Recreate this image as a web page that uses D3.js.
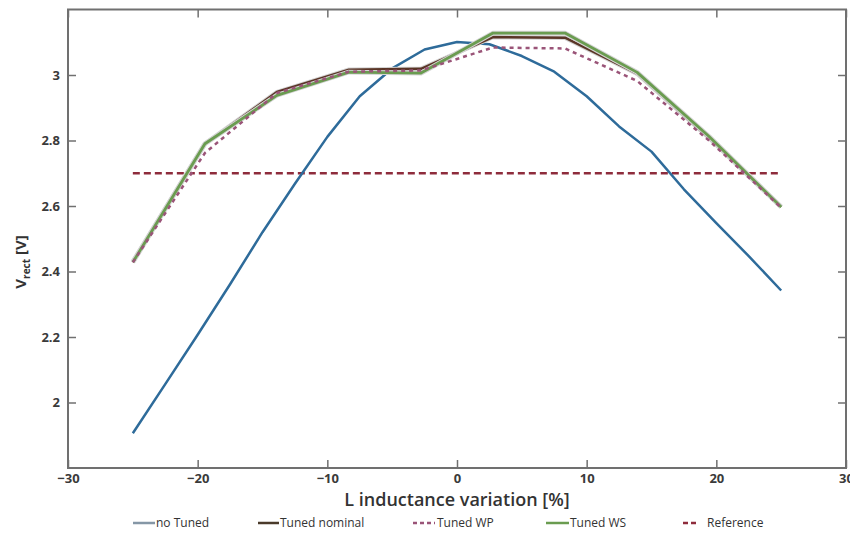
<!DOCTYPE html>
<html>
<head>
<meta charset="utf-8">
<script src="https://cdn.jsdelivr.net/npm/d3@7"></script>
<style>
body { margin: 0; background: #fff; }
text { font-family: "Open Sans", "DejaVu Sans", sans-serif; }
</style>
</head>
<body>
<svg id="chart"></svg>
<script>
// tuned curves: 10 points from -25 to 25
var tunedX = [-25, -19.44, -13.89, -8.33, -2.78, 2.78, 8.33, 13.89, 19.44, 25];
var tunedNominal = [2.430, 2.790, 2.948, 3.016, 3.019, 3.116, 3.114, 3.004, 2.808, 2.597];
var tunedWP      = [2.428, 2.762, 2.945, 3.010, 3.014, 3.084, 3.081, 2.982, 2.800, 2.595];
var tunedWS      = [2.428, 2.790, 2.938, 3.009, 3.006, 3.128, 3.128, 3.008, 2.812, 2.597];

// no tuned curve
var noTunedX = [-25, -22.5, -20, -17.5, -15, -12.5, -10, -7.5, -5, -2.5, 0, 2.5, 5, 7.5, 10, 12.5, 15, 17.5, 20, 22.5, 25];
var noTuned  = [1.906, 2.056, 2.207, 2.361, 2.520, 2.668, 2.811, 2.935, 3.020, 3.078, 3.101, 3.094, 3.058, 3.010, 2.935, 2.843, 2.766, 2.651, 2.548, 2.447, 2.342];

var refX = [-25, 25];
var refY = [2.7, 2.7];

var xTicks = [-30, -20, -10, 0, 10, 20, 30];
var yTicks = [2, 2.2, 2.4, 2.6, 2.8, 3];

var W = 850, H = 534;
var pL = 68, pR = 846, pT = 9.5, pB = 468;

var svg = d3.select("#chart").attr("width", W).attr("height", H);

var x = d3.scaleLinear().domain([-30, 30]).range([pL, pR]);
var y = d3.scaleLinear().domain([1.8, 3.2]).range([pB, pT]);

var fmt = function(d) { return String(d).replace("-", "\u2212"); };

// axes (ticks inside, mirrored)
var axisColor = "#707070";
function styleAxis(g) {
  g.select(".domain").remove();
  g.selectAll(".tick line").attr("stroke", axisColor).attr("stroke-width", 1.5);
  g.selectAll(".tick text").attr("fill", "#3a3a3a").attr("font-size", 13).attr("font-weight", "bold");
}
svg.append("g").attr("transform", "translate(0," + pB + ")")
  .call(d3.axisBottom(x).tickValues(xTicks).tickFormat(fmt).tickSize(-8).tickPadding(6))
  .call(styleAxis);
svg.append("g").attr("transform", "translate(0," + pT + ")")
  .call(d3.axisTop(x).tickValues(xTicks).tickFormat("").tickSize(-8))
  .call(styleAxis);
svg.append("g").attr("transform", "translate(" + pL + ",0)")
  .call(d3.axisLeft(y).tickValues(yTicks).tickFormat(fmt).tickSize(-8).tickPadding(8))
  .call(styleAxis);
svg.append("g").attr("transform", "translate(" + pR + ",0)")
  .call(d3.axisRight(y).tickValues(yTicks).tickFormat("").tickSize(-8))
  .call(styleAxis);

svg.append("rect")
  .attr("x", pL).attr("y", pT)
  .attr("width", pR - pL).attr("height", pB - pT)
  .attr("fill", "none").attr("stroke", axisColor).attr("stroke-width", 2);

// lines
function draw(xs, ys, color, width, dash, halo) {
  var pts = xs.map(function(d, i) { return [d, ys[i]]; });
  var line = d3.line().x(function(d) { return x(d[0]); }).y(function(d) { return y(d[1]); });
  if (halo) {
    svg.append("path").datum(pts).attr("d", line)
      .attr("fill", "none").attr("stroke", "#d4d4d4").attr("stroke-width", width + 2)
      .attr("stroke-linejoin", "round");
  }
  svg.append("path").datum(pts).attr("d", line)
    .attr("fill", "none").attr("stroke", color).attr("stroke-width", width)
    .attr("stroke-dasharray", dash || null).attr("stroke-linejoin", "round");
}

draw(refX, refY, "#8e2c3c", 2.5, "7,4");
draw(noTunedX, noTuned, "#2e6b9a", 2.5);
draw(tunedX, tunedNominal, "#5a3526", 2.5, null, true);
draw(tunedX, tunedWS, "#6a9c50", 2.8, null, true);
draw(tunedX, tunedWP, "#9a5478", 2.5, "4,4");

// axis titles
svg.append("text")
  .attr("x", (pL + pR) / 2).attr("y", 506)
  .attr("text-anchor", "middle").attr("font-size", 18).attr("font-weight", 600).attr("fill", "#333")
  .text("L inductance variation [%]");

var yl = svg.append("text")
  .attr("transform", "translate(26,262) rotate(-90)")
  .attr("text-anchor", "middle").attr("font-size", 15).attr("font-weight", "bold").attr("fill", "#333");
yl.append("tspan").text("V");
yl.append("tspan").attr("font-size", 10).attr("dy", 4).text("rect");
yl.append("tspan").attr("dy", -4).text(" [V]");

// legend
var legendNames = ["no Tuned", "Tuned nominal", "Tuned WP", "Tuned WS", "Reference"];
var legendColors = ["#8597a6", "#4a3a2a", "#9a5478", "#6a9c50", "#8e2c3c"];
var legendDash = [null, null, "4,3", null, "5,3"];
var legendX0 = [133, 258, 413, 546, 683];
var legendX1 = [155, 279, 435, 569, 697];
var legendTextX = [156, 280, 437, 570, 707];
var ly = 523;

legendNames.forEach(function(d, i) {
  svg.append("line")
    .attr("x1", legendX0[i]).attr("x2", legendX1[i])
    .attr("y1", ly).attr("y2", ly)
    .attr("stroke", legendColors[i]).attr("stroke-width", 2.5)
    .attr("stroke-dasharray", legendDash[i]);
  svg.append("text")
    .attr("x", legendTextX[i]).attr("y", ly + 4)
    .attr("font-size", 12).attr("fill", "#333")
    .text(d);
});
</script>
</body>
</html>
